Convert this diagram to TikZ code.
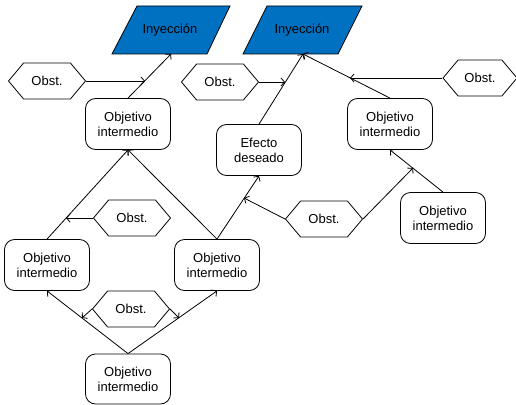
\documentclass[tikz,border=0pt]{standalone}
\usepackage{fontspec}
\setmainfont{Liberation Sans}
\usetikzlibrary{shapes.geometric,shapes.symbols,arrows.meta}
\definecolor{injblue}{RGB}{0,112,192}
\begin{document}
\begin{tikzpicture}[x=1pt,y=-1pt,
  font=\fontsize{13}{15}\selectfont,
  link/.style={draw, line width=0.8pt, -{Straight Barb[length=3.5pt,width=8pt]}},
  goal/.style={draw, rectangle, rounded corners=10pt, minimum width=85pt,
    minimum height=51pt, align=center, inner sep=0pt, line width=0.8pt},
  obst/.style={draw, signal, signal to=west and east, signal pointer angle=100,
    minimum width=77pt, minimum height=36pt, inner sep=0pt, line width=0.8pt},
  injbox/.style={fill=injblue, draw=black, line width=0.8pt}]
\useasboundingbox (0,0) rectangle (516,404);

% injections (parallelograms)
\path[injbox] (137,6) -- (230,6) -- (207,54) -- (112,54) -- cycle;
\path[injbox] (267,6) -- (362,6) -- (338,54) -- (243,54) -- cycle;
\node (inj1) at (170,30) {Inyección};
\node (inj2) at (302,30) {Inyección};
\coordinate (inj1b) at (171,54);
\coordinate (inj2b) at (303,54);

% goals
\node[goal] (obj1) at (128,124) {Objetivo\\intermedio};
\node[goal] (eff)  at (259,150) {Efecto\\deseado};
\node[goal] (obj3) at (390,124) {Objetivo\\intermedio};
\node[goal] (obj4) at (443,218) {Objetivo\\intermedio};
\node[goal] (obj5) at (217,265) {Objetivo\\intermedio};
\node[goal] (obj6) at (47,265)  {Objetivo\\intermedio};
\node[goal, minimum height=50pt] (obj7) at (128,379) {Objetivo\\intermedio};

% obstacles
\node[obst] (o1) at (47,81)  {Obst.};
\node[obst] (o2) at (220,82) {Obst.};
\node[obst, minimum width=74pt] (o3) at (480,78) {Obst.};
\node[obst] (o4) at (324,219) {Obst.};
\node[obst] (o5) at (132,218) {Obst.};
\node[obst] (o6) at (131,309) {Obst.};

% points where obstacles meet the links
\coordinate (m1) at (145,81);
\coordinate (m2) at (285,82);
\coordinate (m3) at (350,78);
\coordinate (m4) at (413,168);
\coordinate (m5) at (244,198);
\coordinate (m6) at (66,218);
\coordinate (m7) at (82,318);
\coordinate (m8) at (179,318);

% links between goals
\path[link] (obj1.north) -- (inj1b);
\path[link] (eff.north) -- (inj2b);
\path[link] (obj3.north) -- (inj2b);
\path[link] (obj4.north) -- (obj3.south);
\path[link] (obj5.north) -- (eff.south);
\path[link] (obj6.north) -- (obj1.south);
\path[link] (obj5.north) -- (obj1.south);
\path[link] (obj7.north) -- (obj6.south);
\path[link] (obj7.north) -- (obj5.south);

% obstacles blocking links
\path[link] (o1.east) -- (m1);
\path[link] (o2.east) -- (m2);
\path[link] (o3.west) -- (m3);
\path[link] (o4.east) -- (m4);
\path[link] (o4.west) -- (m5);
\path[link] (o5.west) -- (m6);
\path[link] (o6.west) -- (m7);
\path[link] (o6.east) -- (m8);
\end{tikzpicture}
\end{document}
